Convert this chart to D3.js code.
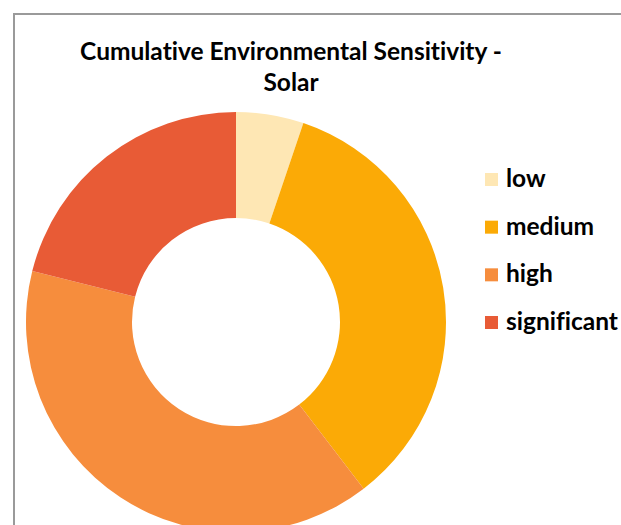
<!DOCTYPE html>
<html>
<head>
<meta charset="utf-8">
<script src="https://cdn.jsdelivr.net/npm/d3@7"></script>
<style>
  html, body { margin: 0; padding: 0; background: #fff; }
  svg { display: block; }
  text { font-family: Lato, "Open Sans", sans-serif; font-weight: bold; fill: #000; font-variant-ligatures: none; }
</style>
</head>
<body>
<svg id="chart" width="621" height="525"></svg>
<script>
// Share of area in each sensitivity class (percent)
const categories = ["low", "medium", "high", "significant"];
const values = [5.2, 34.4, 39.3, 21.1];
const colors = ["#FEE7B4", "#FBAA06", "#F68D3D", "#E85B36"];
const titleLines = ["Cumulative Environmental Sensitivity -", "Solar"];

const svg = d3.select("#chart");

// Chart frame
svg.append("rect")
  .attr("x", 14).attr("y", 14)
  .attr("width", 640).attr("height", 560)
  .attr("fill", "#fff")
  .attr("stroke", "#9a9a9a")
  .attr("stroke-width", 2);

// Title
svg.append("g").selectAll("text")
  .data(titleLines)
  .join("text")
  .attr("x", 291)
  .attr("y", (d, i) => 60 + i * 31)
  .attr("text-anchor", "middle")
  .attr("font-size", 24.5)
  .text(d => d);

// Donut
const cx = 236, cy = 322, rOuter = 210, rInner = 104;
const data = categories.map((c, i) => ({ category: c, value: values[i] }));
const pie = d3.pie().value(d => d.value).sort(null);
const arc = d3.arc().innerRadius(rInner).outerRadius(rOuter);
const color = d3.scaleOrdinal().domain(categories).range(colors);

svg.append("g")
  .attr("transform", `translate(${cx},${cy})`)
  .selectAll("path")
  .data(pie(data))
  .join("path")
  .attr("d", arc)
  .attr("fill", d => color(d.data.category));

// Legend
const legendY = d3.scalePoint().domain(categories).range([180, 323]);
const legend = svg.append("g").selectAll("g")
  .data(categories)
  .join("g")
  .attr("transform", d => `translate(485,${legendY(d)})`);
legend.append("rect")
  .attr("x", 0).attr("y", -7)
  .attr("width", 13).attr("height", 13)
  .attr("fill", d => color(d));
legend.append("text")
  .attr("x", 21).attr("y", 7)
  .attr("font-size", 24.5)
  .text(d => d);
</script>
</body>
</html>
